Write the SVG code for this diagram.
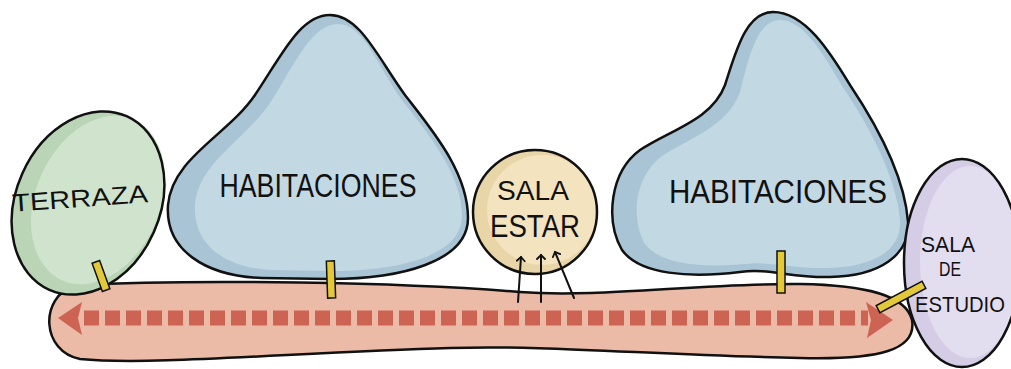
<svg xmlns="http://www.w3.org/2000/svg" width="1011" height="369" viewBox="0 0 1011 369">
<style>
.ol{stroke:#111;stroke-width:2.5;fill:none;stroke-linejoin:round}
.lbl{font-family:"Liberation Sans",Arial,sans-serif;fill:#111;text-anchor:middle}
.hab{fill:#a9c5d5}
.habin{fill:#c2d8e3}
.link{fill:#e3c93a;stroke:#111;stroke-width:1.5}
.arr{stroke:#111;stroke-width:2;fill:none;stroke-linecap:round}
</style>
<defs>
<marker id="vh" markerWidth="10" markerHeight="10" refX="5" refY="5" orient="auto" markerUnits="userSpaceOnUse">
<path d="M1,1 L5,5 L1,9" fill="none" stroke="#111" stroke-width="1.8" stroke-linecap="round"/>
</marker>
</defs>
<rect width="1011" height="369" fill="#fff"/>

<g id="corredor">
<path d="M75,285 C200,279 400,282 520,292 C600,298 700,283 800,284 C865,285 906,295 912,320 C917,350 880,360 800,358 C650,355 550,345 450,348 C300,352 150,366 80,359 C42,352 38,298 75,285 Z" fill="#ebbba7"/>
<path d="M75,285 C200,279 400,282 520,292 C600,298 700,283 800,284 C865,285 906,295 912,320 C917,350 880,360 800,358 C650,355 550,345 450,348 C300,352 150,366 80,359 C42,352 38,298 75,285 Z" class="ol"/>
</g>

<g id="terraza">
<ellipse cx="88" cy="203" rx="72" ry="95" transform="rotate(24 88 203)" fill="#b9d5b6"/>
<ellipse cx="98" cy="200" rx="62" ry="88" transform="rotate(24 98 200)" fill="#d0e4cd"/>
<ellipse cx="88" cy="203" rx="72" ry="95" transform="rotate(24 88 203)" class="ol"/>
<text class="lbl" x="80" y="207" font-size="25" textLength="136" lengthAdjust="spacingAndGlyphs" transform="rotate(-4 80 200)">TERRAZA</text>
</g>

<g id="habitaciones1">
<path class="hab" d="M330,15 C300,15 282,55 255,95 C228,135 172,158 168,205 C165,250 205,276 262,278 L330,279 C400,279 468,262 468,218 C468,172 432,130 405,95 C378,58 360,15 330,15 Z"/>
<path class="habin" d="M338,24 C312,24 296,62 272,100 C248,138 198,162 195,205 C193,245 225,268 272,270 L332,271 C398,271 462,256 462,216 C462,174 428,134 402,100 C376,64 364,24 338,24 Z"/>
<path class="ol" d="M330,15 C300,15 282,55 255,95 C228,135 172,158 168,205 C165,250 205,276 262,278 L330,279 C400,279 468,262 468,218 C468,172 432,130 405,95 C378,58 360,15 330,15 Z"/>
<text class="lbl" x="318" y="197" font-size="33" textLength="197" lengthAdjust="spacingAndGlyphs">HABITACIONES</text>
</g>

<g id="sala-estar">
<circle cx="535" cy="212" r="62" fill="#e8d5a8"/>
<circle cx="542" cy="210" r="55" fill="#f3e3bf"/>
<circle cx="535" cy="212" r="62" class="ol"/>
<text class="lbl" x="533" y="200" font-size="27" textLength="72" lengthAdjust="spacingAndGlyphs">SALA</text>
<text class="lbl" x="535" y="237" font-size="31" textLength="90" lengthAdjust="spacingAndGlyphs">ESTAR</text>
</g>

<g id="habitaciones2">
<path class="hab" d="M773,12 C745,12 735,55 725,85 C712,120 670,130 640,150 C610,172 605,220 622,250 C640,275 690,278 740,272 C770,268 790,278 830,277 C880,276 910,255 908,222 C905,180 880,130 850,85 C830,52 805,12 773,12 Z"/>
<path class="habin" d="M780,20 C756,20 748,62 740,92 C728,126 690,138 662,156 C635,176 630,218 645,244 C660,264 700,268 745,264 C772,261 792,269 828,268 C874,267 902,250 900,220 C897,182 874,134 846,92 C826,60 806,20 780,20 Z"/>
<path class="ol" d="M773,12 C745,12 735,55 725,85 C712,120 670,130 640,150 C610,172 605,220 622,250 C640,275 690,278 740,272 C770,268 790,278 830,277 C880,276 910,255 908,222 C905,180 880,130 850,85 C830,52 805,12 773,12 Z"/>
<text class="lbl" x="778" y="203" font-size="33" textLength="218" lengthAdjust="spacingAndGlyphs">HABITACIONES</text>
</g>

<g id="sala-estudio">
<ellipse cx="962" cy="263" rx="58" ry="104" fill="#d5cde6"/>
<ellipse cx="970" cy="262" rx="50" ry="96" fill="#e3ddf0"/>
<ellipse cx="962" cy="263" rx="58" ry="104" class="ol"/>
<text class="lbl" x="948" y="252" font-size="22" textLength="54" lengthAdjust="spacingAndGlyphs">SALA</text>
<text class="lbl" x="950" y="276" font-size="20" textLength="22" lengthAdjust="spacingAndGlyphs">DE</text>
<text class="lbl" x="960" y="312" font-size="22" textLength="90" lengthAdjust="spacingAndGlyphs">ESTUDIO</text>
</g>

<g id="conectores">
<line x1="84" y1="318" x2="868" y2="318" stroke="#cd6453" stroke-width="15" stroke-dasharray="15 6"/>
<path d="M58,318 L82,302 L78,318 L82,335 Z" fill="#cd6453"/>
<path d="M893,320 L866,302 L871,320 L867,338 Z" fill="#cd6453"/>
<rect class="link" x="-4" y="-15" width="8" height="30" transform="translate(101,276) rotate(-20)"/>
<rect class="link" x="327" y="261" width="8" height="37" transform="rotate(-2 331 280)"/>
<rect class="link" x="777" y="251" width="8" height="42"/>
<rect class="link" x="-26" y="-4" width="52" height="8" transform="translate(901,297) rotate(-28)"/>
<line class="arr" x1="518" y1="302" x2="521" y2="257" marker-end="url(#vh)"/>
<line class="arr" x1="541" y1="302" x2="541" y2="255" marker-end="url(#vh)"/>
<line class="arr" x1="574" y1="298" x2="555" y2="252" marker-end="url(#vh)"/>
</g>
</svg>
